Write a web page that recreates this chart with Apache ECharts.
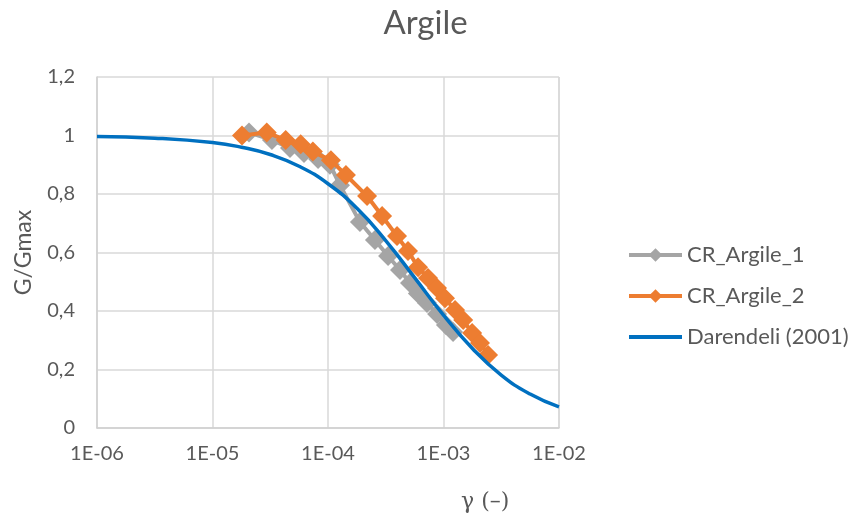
<!DOCTYPE html>
<html>
<head>
<meta charset="utf-8">
<script src="https://cdn.jsdelivr.net/npm/echarts@6/dist/echarts.min.js"></script>
<style>html,body{margin:0;padding:0;background:#fff;}#c{width:851px;height:519px;}</style>
</head>
<body>
<div id="c"></div>
<script>
// Data
const chartTitle = 'Argile';
const xAxisName = 'γ (–)';
const yAxisName = 'G/Gmax';
const seriesNames = ['CR_Argile_1', 'CR_Argile_2', 'Darendeli (2001)'];

const argile1Gamma = [2.07e-5, 3.27e-5, 4.69e-5, 6.2e-5, 8.2e-5, 1.04e-4, 1.27e-4, 1.89e-4, 2.55e-4, 3.31e-4, 4.2e-4, 5.13e-4, 6.0e-4, 7.2e-4, 8.8e-4, 1.05e-3, 1.21e-3];
const argile1G     = [1.01, 0.985, 0.957, 0.94, 0.92, 0.90, 0.83, 0.704, 0.643, 0.588, 0.54, 0.496, 0.46, 0.427, 0.39, 0.352, 0.328];

const argile2Gamma = [1.8e-5, 2.95e-5, 4.3e-5, 5.8e-5, 7.4e-5, 1.06e-4, 1.43e-4, 2.18e-4, 2.94e-4, 3.96e-4, 4.93e-4, 6.02e-4, 7.34e-4, 8.79e-4, 1.03e-3, 1.26e-3, 1.48e-3, 1.77e-3, 2.07e-3, 2.43e-3];
const argile2G     = [1.0, 1.01, 0.985, 0.97, 0.945, 0.915, 0.865, 0.793, 0.725, 0.656, 0.605, 0.55, 0.513, 0.479, 0.444, 0.403, 0.369, 0.325, 0.291, 0.25];

const darendeliGamma = [1e-6, 3.16e-6, 1e-5, 1.78e-5, 3.16e-5, 5.62e-5, 1e-4, 1.78e-4, 3.16e-4, 5.62e-4, 1e-3, 1.78e-3, 3.16e-3, 5.62e-3, 1e-2];
const darendeliG     = [0.997, 0.991, 0.976, 0.960, 0.935, 0.895, 0.835, 0.751, 0.641, 0.514, 0.386, 0.272, 0.181, 0.116, 0.072];

const xTickExponents = [-6, -5, -4, -3, -2];

function pairs(xs, ys) { return xs.map((x, i) => [x, ys[i]]); }

const FONT = 'Lato';
const TXT = '#595959';

const chart = echarts.init(document.getElementById('c'), null, {renderer: 'canvas'});
chart.setOption({
  animation: false,
  backgroundColor: '#ffffff',
  title: {
    text: chartTitle,
    left: 'center',
    top: 2,
    textStyle: {fontFamily: FONT, fontSize: 33, fontWeight: 'normal', color: TXT}
  },
  grid: {left: 97, right: 292, top: 77, bottom: 91, containLabel: false},
  legend: {
    orient: 'vertical',
    left: 622,
    top: 239,
    itemWidth: 53,
    itemHeight: 17,
    itemGap: 19,
    data: [
      {name: seriesNames[0], lineStyle: {width: 4}},
      {name: seriesNames[1], lineStyle: {width: 4}},
      {name: seriesNames[2], lineStyle: {width: 4}, itemStyle: {opacity: 0}}
    ],
    textStyle: {fontFamily: FONT, fontSize: 22, color: TXT}
  },
  xAxis: {
    type: 'log',
    logBase: 10,
    min: Math.pow(10, xTickExponents[0]),
    max: Math.pow(10, xTickExponents[xTickExponents.length - 1]),
    axisLine: {show: true, lineStyle: {color: '#d0d0d0', width: 1.5}},
    axisTick: {show: false},
    splitLine: {show: true, lineStyle: {color: '#d9d9d9', width: 1.5}},
    axisLabel: {
      fontFamily: FONT, fontSize: 20, color: TXT, margin: 16,
      formatter: function (v) {
        const e = Math.round(Math.log10(v));
        return '1E-' + String(-e).padStart(2, '0');
      }
    }
  },
  yAxis: {
    type: 'value',
    min: 0,
    max: 1.2,
    interval: 0.2,
    name: yAxisName,
    nameLocation: 'middle',
    nameGap: 62,
    nameTextStyle: {fontFamily: FONT, fontSize: 23, color: TXT},
    axisLine: {show: true, lineStyle: {color: '#d0d0d0', width: 1.5}},
    axisTick: {show: false},
    splitLine: {show: true, lineStyle: {color: '#d9d9d9', width: 1.5}},
    axisLabel: {
      fontFamily: FONT, fontSize: 20, color: TXT, margin: 22,
      formatter: function (v) {
        return (Math.round(v * 10) / 10).toString().replace('.', ',');
      }
    }
  },
  graphic: [{
    type: 'text',
    left: 461,
    top: 491,
    style: {text: xAxisName, font: '22px "DejaVu Serif"', fill: TXT}
  }],
  series: [
    {
      name: seriesNames[0],
      type: 'line',
      data: pairs(argile1Gamma, argile1G),
      symbol: 'diamond',
      symbolSize: 20,
      itemStyle: {color: '#a5a5a5'},
      lineStyle: {color: '#a5a5a5', width: 4},
      z: 2
    },
    {
      name: seriesNames[1],
      type: 'line',
      data: pairs(argile2Gamma, argile2G),
      symbol: 'diamond',
      symbolSize: 20,
      itemStyle: {color: '#ed7d31'},
      lineStyle: {color: '#ed7d31', width: 4},
      z: 3
    },
    {
      name: seriesNames[2],
      type: 'line',
      data: pairs(darendeliGamma, darendeliG),
      symbol: 'none',
      smooth: true,
      itemStyle: {color: '#0070c0'},
      lineStyle: {color: '#0070c0', width: 3.5},
      z: 4
    }
  ]
});
</script>
</body>
</html>
